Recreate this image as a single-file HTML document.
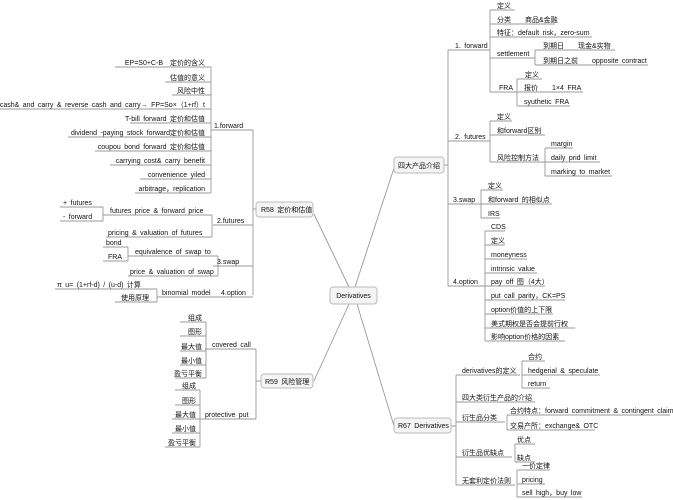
<!DOCTYPE html>
<html><head><meta charset="utf-8"><style>
html,body{margin:0;padding:0;background:#fff;}
svg{display:block;}
text{font-family:"Liberation Sans","Noto Sans CJK SC",sans-serif;font-size:7px;fill:#111;word-spacing:1.5px;}
.r{text-anchor:end;}
.box{fill:#f4f4f4;stroke:#bbb;stroke-width:1;}
</style></head><body>
<svg width="673" height="500" viewBox="0 0 673 500" xmlns="http://www.w3.org/2000/svg">
<g fill="none" stroke="#999" stroke-width="0.9">
<path d="M349 287 L314 214 M355 287 L394 168 M349 304 L314 381 M357 304 L394 426"/>
<path d="M256 209 H253 M253 130 V295 M211 130 H253 M213 225 H253 M213 266 H253 M218 297 H253"/>
<path d="M211 67 V193 M115 67 H211 M165 82 H211 M172 95 H211 M0 109 H211 M130 123 H211 M68 137 H211 M95 151 H211 M110 165 H211 M140 179 H211 M135 193 H211"/>
<path d="M212 215 V237 M103 215 H212 M106 237 H212 M103 207 V221 M60 207 H103 M60 221 H103"/>
<path d="M218 256 V276 M128 256 H218 M128 276 H218 M128 247 V261 M103 247 H128 M103 261 H128"/>
<path d="M157 289 V302 M157 297 H218 M55 289 H157 M115 302 H157"/>
<path d="M261 381 H256 M256 349 V419 M205 349 H256 M200 419 H256"/>
<path d="M206 322 V378 M180 322 H206 M180 336 H206 M180 351 H206 M180 365 H206 M175 378 H206"/>
<path d="M200 390 V447 M175 390 H200 M175 405 H200 M172 419 H200 M172 433 H200 M165 447 H200"/>
<path d="M444 165 H448 M448 50 V286 M448 50 H490 M448 141 H490 M448 204 H481 M448 286 H485"/>
<path d="M490 10 V92 M490 10 H515 M490 24 H555 M490 37 H592 M490 58 H535 M490 92 H518"/>
<path d="M535 50 V65 M535 50 H615 M535 65 H648 M517 79 V106 M517 79 H542 M517 92 H583 M517 106 H570"/>
<path d="M490 121 V162 M490 121 H512 M490 135 H545 M490 162 H545 M545 148 V176 M545 148 H573 M545 162 H600 M545 176 H612"/>
<path d="M481 190 V218 M481 190 H503 M481 204 H552 M481 218 H500"/>
<path d="M485 231 V341 M485 231 H505 M485 245 H505 M485 259 H527 M485 273 H537 M485 286 H545 M485 300 H565 M485 314 H553 M485 328 H575 M485 341 H565"/>
<path d="M451 426 H456 M456 375 V485 M456 375 H520 M456 402 H535 M456 422 H505 M456 457 H512 M456 485 H515"/>
<path d="M522 361 V388 M522 361 H545 M522 375 H600 M522 388 H550"/>
<path d="M507 415 V430 M507 415 H670 M507 430 H595 M515 444 V462 M515 444 H535 M515 462 H535"/>
<path d="M517 470 V497 M517 470 H550 M517 484 H545 M517 497 H582"/>
</g>
<rect class="box" x="330" y="287" width="47" height="17" rx="3"/>
<text x="353.5" y="298" style="text-anchor:middle">Derivatives</text>
<rect class="box" x="256" y="202" width="57" height="15" rx="3"/>
<text x="261" y="212">R58 定价和估值</text>
<rect class="box" x="394" y="157" width="50" height="16" rx="3"/>
<text x="398" y="168">四大产品介绍</text>
<rect class="box" x="261" y="374" width="52" height="14" rx="3"/>
<text x="265" y="384">R59 风险管理</text>
<rect class="box" x="394" y="418" width="57" height="15" rx="3"/>
<text x="398" y="428">R67 Derivatives</text>
<text class="r" x="205" y="65">EP=S0+C-B　定价的含义</text>
<text class="r" x="205" y="80">估值的意义</text>
<text class="r" x="205" y="93">风险中性</text>
<text class="r" x="205" y="107">cash&amp; and carry &amp; reverse cash and carry→ FP=So×（1+rf）t</text>
<text class="r" x="205" y="121">T-bill forward 定价和估值</text>
<text class="r" x="205" y="135">dividend -paying stock forward定价和估值</text>
<text class="r" x="205" y="149">coupou bond forward 定价和估值</text>
<text class="r" x="205" y="163">carrying cost&amp; carry benefit</text>
<text class="r" x="205" y="177">convenience yiled</text>
<text class="r" x="205" y="191">arbitrage，replication</text>
<text x="214" y="128">1.forward</text>
<text x="217" y="223">2.futures</text>
<text x="217" y="264">3.swap</text>
<text x="221" y="295">4.option</text>
<text x="110" y="213">futures price &amp; forward price</text>
<text x="108" y="235">pricing &amp; valuation of futures</text>
<text x="63" y="205">+ futures</text>
<text x="63" y="219">- forward</text>
<text x="135" y="254">equivalence of swap to</text>
<text x="130" y="274">price &amp; valuation of swap</text>
<text x="106" y="245">bond</text>
<text x="108" y="259">FRA</text>
<text x="162" y="295">binomial model</text>
<text x="57" y="287">π u= (1+rf-d) / (u-d) 计算</text>
<text x="121" y="300">使用原理</text>
<text x="212" y="347">covered call</text>
<text x="205" y="417">protective put</text>
<text class="r" x="202" y="320">组成</text>
<text class="r" x="202" y="334">图形</text>
<text class="r" x="202" y="349">最大值</text>
<text class="r" x="202" y="363">最小值</text>
<text class="r" x="202" y="376">盈亏平衡</text>
<text class="r" x="196" y="388">组成</text>
<text class="r" x="196" y="403">图形</text>
<text class="r" x="196" y="417">最大值</text>
<text class="r" x="196" y="431">最小值</text>
<text class="r" x="196" y="445">盈亏平衡</text>
<text x="455" y="48">1. forward</text>
<text x="497" y="8">定义</text>
<text x="497" y="22">分类　　商品&amp;金融</text>
<text x="497" y="35">特征：default risk，zero-sum</text>
<text x="497" y="56">settlement</text>
<text x="499" y="90">FRA</text>
<text x="543" y="48">到期日　　现金&amp;实物</text>
<text x="543" y="63">到期日之前　　opposite contract</text>
<text x="525" y="77">定义</text>
<text x="524" y="90">报价　　1×4 FRA</text>
<text x="524" y="104">syuthetic FRA</text>
<text x="455" y="139">2. futures</text>
<text x="497" y="119">定义</text>
<text x="497" y="133">和forward区别</text>
<text x="497" y="160">风险控制方法</text>
<text x="551" y="146">margin</text>
<text x="551" y="160">daily prid limit</text>
<text x="551" y="174">marking to market</text>
<text x="453" y="202">3.swap</text>
<text x="488" y="188">定义</text>
<text x="488" y="202">和forward 的相似点</text>
<text x="488" y="216">IRS</text>
<text x="453" y="284">4.option</text>
<text x="491" y="229">CDS</text>
<text x="491" y="243">定义</text>
<text x="491" y="257">moneyness</text>
<text x="491" y="271">intrinsic value</text>
<text x="491" y="284">pay off 图（4大）</text>
<text x="491" y="298">put call parity，CK=PS</text>
<text x="491" y="312">option价值的上下限</text>
<text x="491" y="326">美式期权是否会提前行权</text>
<text x="491" y="339">影响option价格的因素</text>
<text x="462" y="373">derivatives的定义</text>
<text x="528" y="359">合约</text>
<text x="528" y="373">hedgerial &amp; speculate</text>
<text x="528" y="386">return</text>
<text x="462" y="400">四大类衍生产品的介绍</text>
<text x="462" y="420">衍生品分类</text>
<text x="510" y="413">合约特点：forward commitment &amp; contingent claim</text>
<text x="510" y="428">交易产所：exchange&amp; OTC</text>
<text x="462" y="455">衍生品优缺点</text>
<text x="517" y="442">优点</text>
<text x="517" y="460">缺点</text>
<text x="462" y="483">无套利定价法则</text>
<text x="522" y="468">一价定律</text>
<text x="522" y="482">pricing</text>
<text x="522" y="495">sell high，buy low</text>
</svg>
</body></html>
